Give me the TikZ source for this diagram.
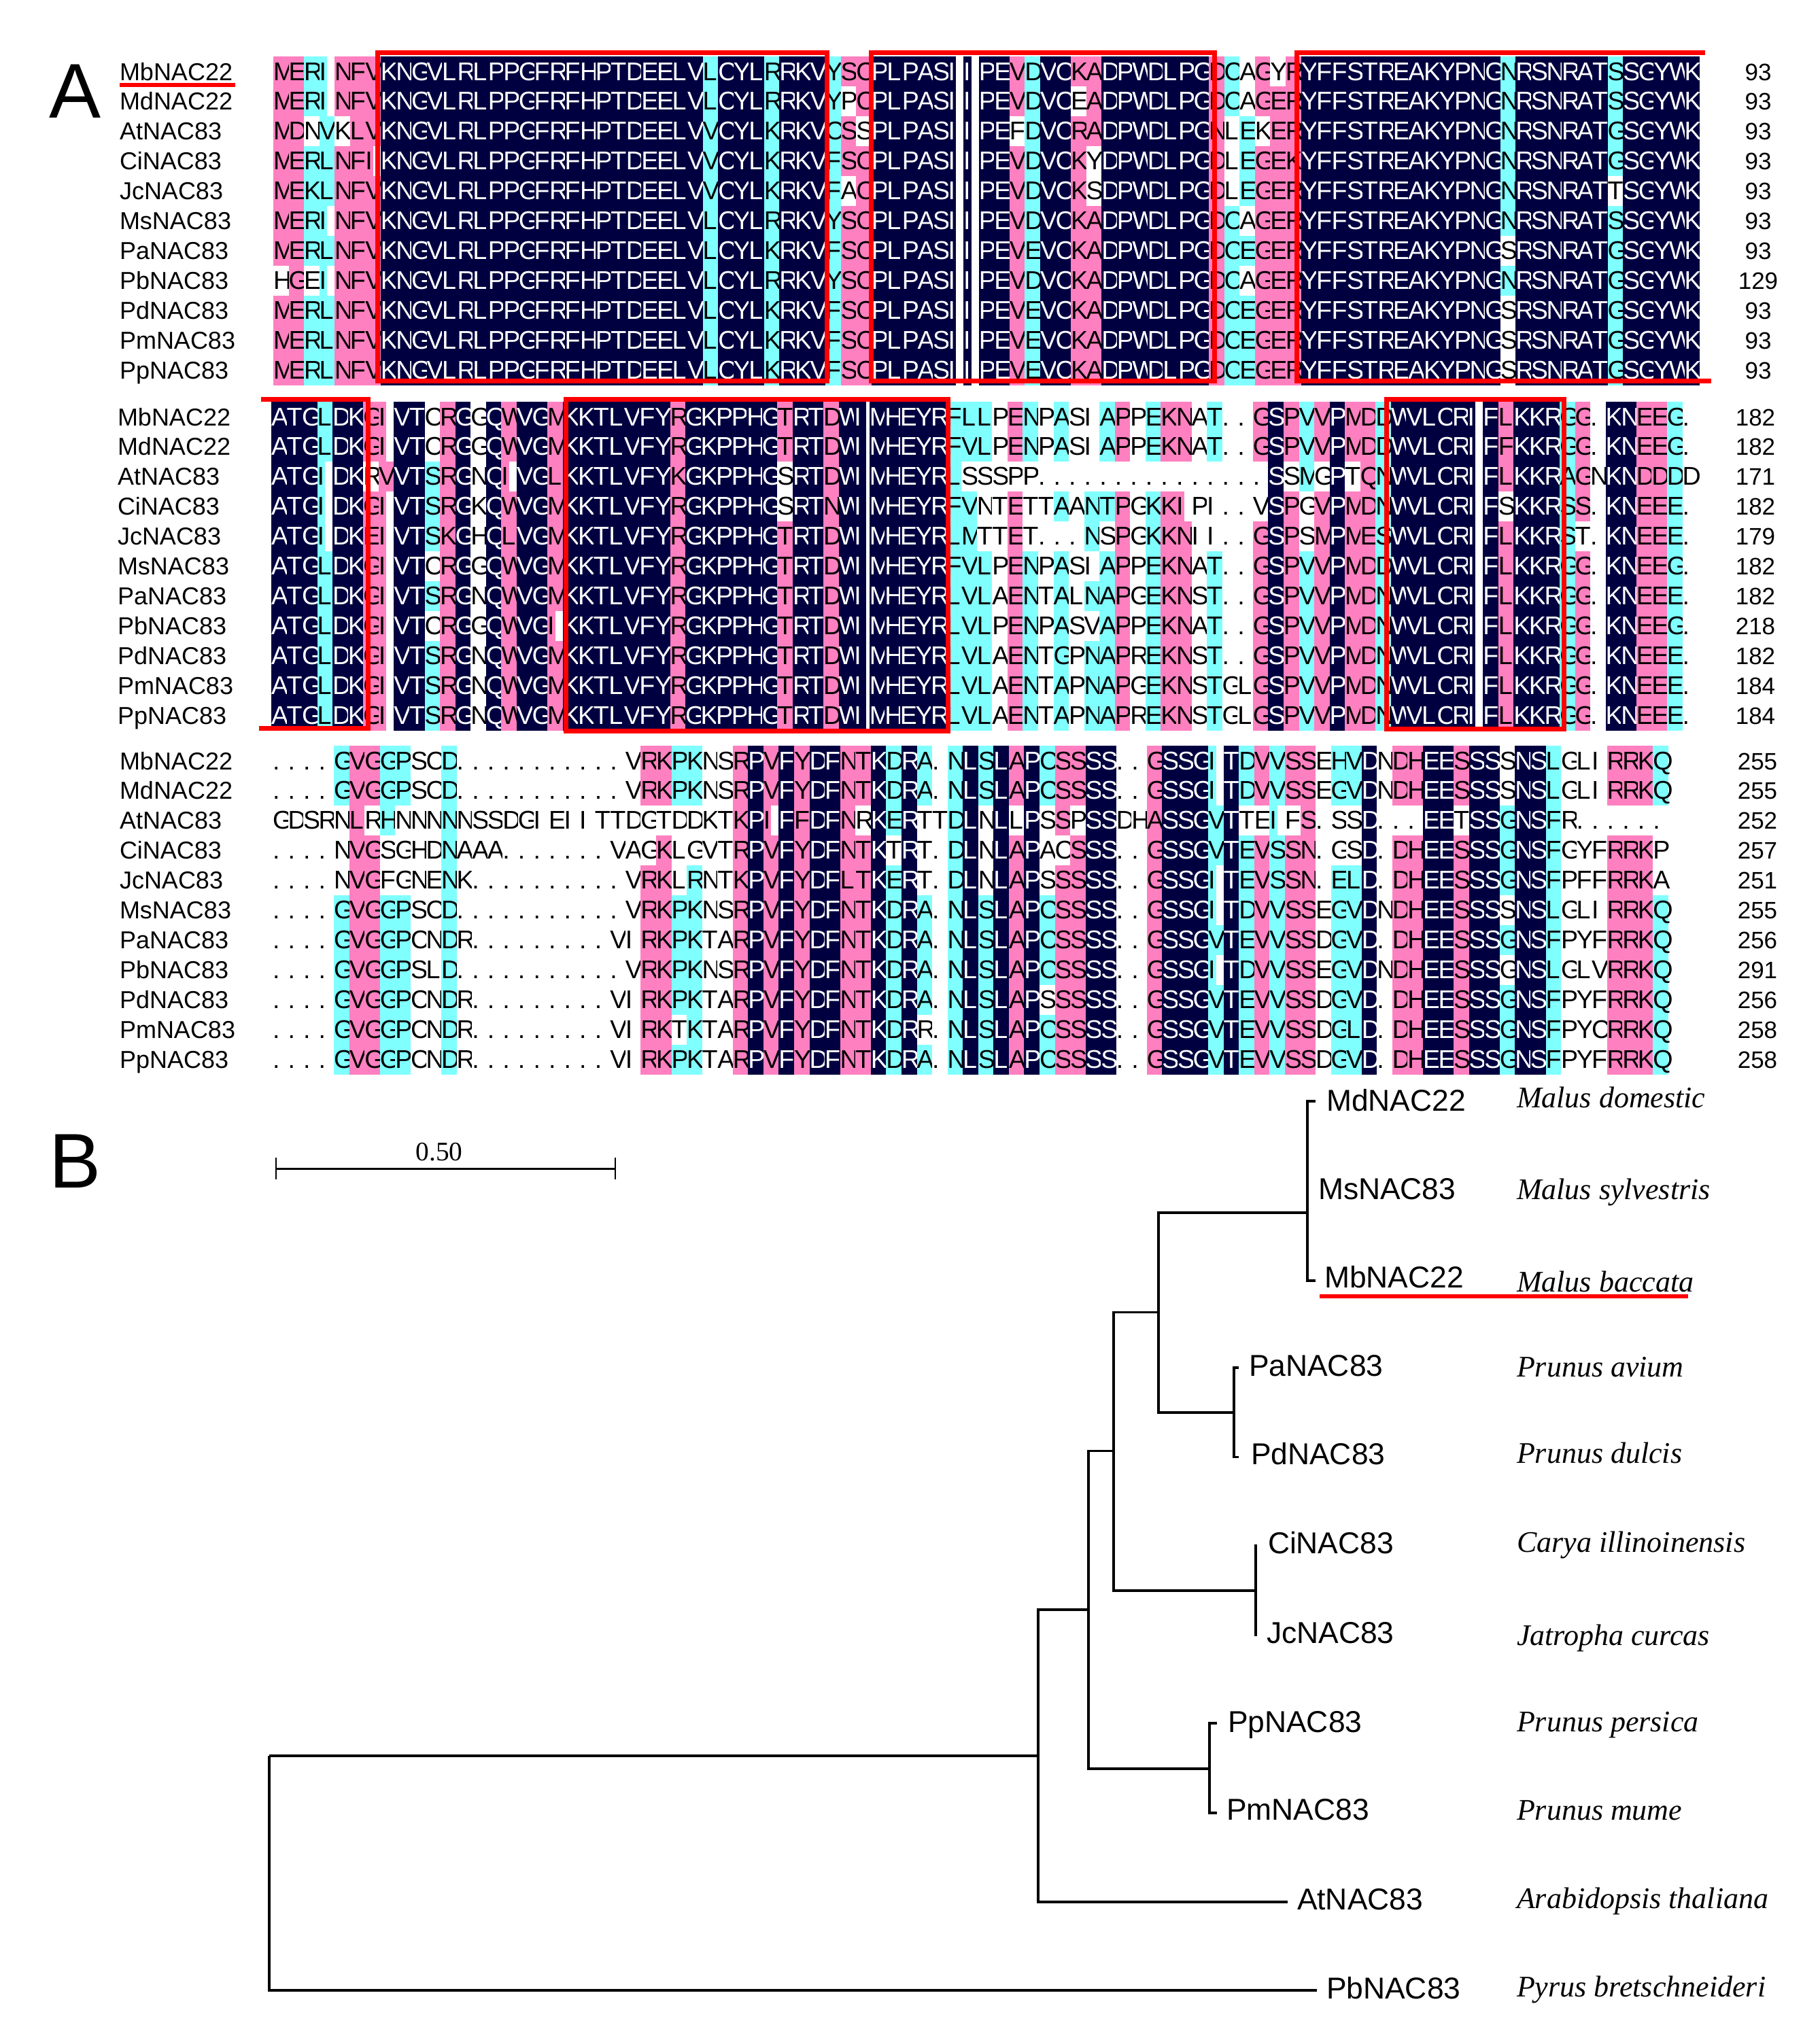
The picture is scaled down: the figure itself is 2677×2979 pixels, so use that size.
\documentclass[tikz,border=0pt]{standalone}
\usepackage{fontspec}
\setmainfont{Liberation Sans}
\newfontfamily\speciesfont{Liberation Serif}
\usepackage{tikz}

\definecolor{celln}{HTML}{000040}
\definecolor{cellp}{HTML}{FF80C0}
\definecolor{cellc}{HTML}{80FFFF}
\definecolor{cellw}{HTML}{FFFFFF}

\tikzset{
  seqchar/.style={anchor=base west,inner sep=0pt,outer sep=0pt,font=\fontsize{18.85}{20}\selectfont},
  seqlabel/.style={anchor=base west,inner sep=0pt,outer sep=0pt,font=\fontsize{18}{20}\selectfont},
  seqnum/.style={anchor=base,inner sep=0pt,outer sep=0pt,font=\fontsize{17.5}{20}\selectfont},
  redbox/.style={draw=red,line width=3.5pt},
  redline/.style={draw=red,line width=3pt},
  branch/.style={draw=black,line width=1.6pt},
  taxon/.style={anchor=base west,inner sep=0pt,outer sep=0pt,font=\fontsize{22.2}{24}\selectfont},
  species/.style={anchor=base west,inner sep=0pt,outer sep=0pt,font=\fontsize{22}{24}\speciesfont\itshape},
  panel/.style={anchor=base west,inner sep=0pt,outer sep=0pt,font=\fontsize{57}{60}\selectfont}
}

\newcount\colno
\newcount\rowno

% base colours of the columns of a block
\def\setbase#1{\global\colno=0 \setbasei#1\relax}
\def\setbasei#1{\ifx#1\relax\else\expandafter\xdef\csname bgc\the\colno\endcsname{#1}\global\advance\colno by 1 \expandafter\setbasei\fi}

% x of first column, y of first row, x of labels, x of numbers, base colours
\newcommand{\alnblock}[5]{%
  \gdef\alnx{#1}\gdef\rowy{#2}\gdef\labx{#3}\gdef\numx{#4}\setbase{#5}}

\def\alncell#1{%
  \pgfmathsetmacro\cellx{\alnx+\the\colno*22.56}%
  \edef\cellcode{\csname cellc\the\colno\endcsname}%
  \def\cellw{22.9}\def\cellchar{#1}%
  \ifx#1I\def\cellw{11.5}\fi
  \ifx#1j\def\cellw{18}\def\cellchar{I}\fi
  \fill[fill=cell\cellcode] (\cellx,\rowy) rectangle ++(\cellw,44.3);
  \if n\cellcode\def\cellink{white}\else\def\cellink{black}\fi
  \node[seqchar,text=\cellink,name=s\the\rowno c\the\colno] at (\cellx,\rowy+35) {\cellchar};
}
\def\alnwalk#1{\ifx#1\relax\else\alncell{#1}\global\advance\colno by 1 \expandafter\alnwalk\fi}

% name, residues, number, cells that differ from the base colour
\newcommand{\alnrow}[4]{%
  \foreach \ii in {0,...,92}{\expandafter\global\expandafter\let\csname cellc\ii\expandafter\endcsname\csname bgc\ii\endcsname}%
  \ifx\relax#4\relax\else\foreach \ii/\vv in {#4}{\expandafter\xdef\csname cellc\ii\endcsname{\vv}}\fi
  \node[seqlabel,name=lab\the\rowno] at (\labx,\rowy+35) {#1};
  \global\colno=0
  \alnwalk#2\relax
  \node[seqnum,name=num\the\rowno] at (\numx,\rowy+35) {#3};
  \pgfmathsetmacro\nexty{\rowy+43.95}\global\let\rowy\nexty
  \global\advance\rowno by 1
}

\begin{document}
\begin{tikzpicture}[x=0.5pt,y=-0.5pt]

\useasboundingbox (0,0) rectangle (2677,2979);
\fill[white] (0,0) rectangle (2677,2979);

\node[panel] (panelA) at (72,173) {A};
\node[panel] (panelB) at (72,1747) {B};

% first block
\alnblock{402}{83}{176}{2586}{ppccpppnnnnnnnnnnnnnnnnnnnnncnnncnnncppnnnnnnnnnpcnnppnnnnnnnpccpppnnnnnnnnnnnnncnnnnnncnnnnn}
\alnrow{MbNAC22}{MERINFVKNGVLRLPPGFRFHPTDEELVLCYLRRKVYSCPLPASIIPEVDVCKADPWDLPGDCAGYRYFFSTREAKYPNGNRSNRATSSGYWK}{93}{63/w,65/w}
\alnrow{MdNAC22}{MERINFVKNGVLRLPPGFRFHPTDEELVLCYLRRKVYPCPLPASIIPEVDVCEADPWDLPGDCAGERYFFSTREAKYPNGNRSNRATSSGYWK}{93}{37/w,52/w,63/w}
\alnrow{AtNAC83}{MDNVKLVKNGVLRLPPGFRFHPTDEELVVCYLKRKVCSSPLPASIIPEFDVCRADPWDLPGNLEKERYFFSTREAKYPNGNRSNRATGSGYWK}{93}{2/w,4/w,38/w,48/w,62/w,64/w}
\alnrow{CiNAC83}{MERLNFIKNGVLRLPPGFRFHPTDEELVVCYLKRKVFSCPLPASIIPEVDVCKYDPWDLPGDLEGEKYFFSTREAKYPNGNRSNRATGSGYWK}{93}{53/w,62/w}
\alnrow{JcNAC83}{MEKLNFVKNGVLRLPPGFRFHPTDEELVVCYLKRKVFACPLPASIIPEVDVCKSDPWDLPGDLEGERYFFSTREAKYPNGNRSNRATTSGYWK}{93}{37/w,53/w,62/w,87/w}
\alnrow{MsNAC83}{MERINFVKNGVLRLPPGFRFHPTDEELVLCYLRRKVYSCPLPASIIPEVDVCKADPWDLPGDCAGERYFFSTREAKYPNGNRSNRATSSGYWK}{93}{63/w}
\alnrow{PaNAC83}{MERLNFVKNGVLRLPPGFRFHPTDEELVLCYLKRKVFSCPLPASIIPEVEVCKADPWDLPGDCEGERYFFSTREAKYPNGSRSNRATGSGYWK}{93}{80/w}
\alnrow{PbNAC83}{HGEINFVKNGVLRLPPGFRFHPTDEELVLCYLRRKVYSCPLPASIIPEVDVCKADPWDLPGDCAGERYFFSTREAKYPNGNRSNRATGSGYWK}{129}{0/w,2/w,63/w}
\alnrow{PdNAC83}{MERLNFVKNGVLRLPPGFRFHPTDEELVLCYLKRKVFSCPLPASIIPEVEVCKADPWDLPGDCEGERYFFSTREAKYPNGSRSNRATGSGYWK}{93}{80/w}
\alnrow{PmNAC83}{MERLNFVKNGVLRLPPGFRFHPTDEELVLCYLKRKVFSCPLPASIIPEVEVCKADPWDLPGDCEGERYFFSTREAKYPNGSRSNRATGSGYWK}{93}{80/w}
\alnrow{PpNAC83}{MERLNFVKNGVLRLPPGFRFHPTDEELVLCYLKRKVFSCPLPASIIPEVEVCKADPWDLPGDCEGERYFFSTREAKYPNGSRSNRATGSGYWK}{93}{80/w}

% second block
\alnblock{399}{591}{173}{2582}{nnncnnppnncpnwnpnnpnnnnnnnpnnnnnnpnnpnnnnnnncccwpcwcwwcpwcppwcwwpnpcpnppcnnnnnnnpnnncpwnnppcw}
\alnrow{MbNAC22}{ATGLDKGIVTCRGGQWVGMKKTLVFYRGKPPHGTRTDWjMHEYRFLLPENPASIAPPEKNAT..GSPVVPMDDWVLCRIFLKKRGG.KNEEG.}{182}{10/w}
\alnrow{MdNAC22}{ATGLDKGIVTCRGGQWVGMKKTLVFYRGKPPHGTRTDWjMHEYRFVLPENPASIAPPEKNAT..GSPVVPMDDWVLCRIFFKKRGG.KNEEG.}{182}{10/w}
\alnrow{AtNAC83}{ATGIDKRVVTSRGNQIVGLKKTLVFYKGKPPHGSRTDWjMHEYRLSSSPP...............SSMGPTQNWVLCRIFLKKRAGNKNDDDD}{171}{6/w,33/w,45/w,46/w,48/w,49/w,51/w,54/w,55/w,57/w,58/w,59/w,61/w,64/w,66/w,68/w,70/w}
\alnrow{CiNAC83}{ATGIDKGIVTSRGKQWVGMKKTLVFYRGKPPHGSRTNWjMHEYRFVNTETTAANTPGKKIPI..VSPGVPMDNWVLCRIFSKKRSS.KNEEE.}{182}{33/w,46/w,49/w,53/c,61/w,64/w,67/w,80/w}
\alnrow{JcNAC83}{ATGIDKEIVTSKGHQLVGMKKTLVFYRGKPPHGTRTDWjMHEYRLMTTET...NSPGKKNII..GSPSMPMESWVLCRIFLKKRST.KNEEE.}{179}{46/w,49/w,51/w,53/c,54/w,61/w,67/w,85/w}
\alnrow{MsNAC83}{ATGLDKGIVTCRGGQWVGMKKTLVFYRGKPPHGTRTDWjMHEYRFVLPENPASIAPPEKNAT..GSPVVPMDDWVLCRIFLKKRGG.KNEEG.}{182}{10/w}
\alnrow{PaNAC83}{ATGLDKGIVTSRGNQWVGMKKTLVFYRGKPPHGTRTDWjMHEYRLVLAENTALNAPGEKNST..GSPVVPMDNWVLCRIFLKKRGG.KNEEE.}{182}{53/c}
\alnrow{PbNAC83}{ATGLDKGIVTCRGGQWVGIKKTLVFYRGKPPHGTRTDWjMHEYRLVLPENPASVAPPEKNAT..GSPVVPMDNWVLCRIFLKKRGG.KNEEG.}{218}{10/w}
\alnrow{PdNAC83}{ATGLDKGIVTSRGNQWVGMKKTLVFYRGKPPHGTRTDWjMHEYRLVLAENTGPNAPREKNST..GSPVVPMDNWVLCRIFLKKRGG.KNEEE.}{182}{53/c}
\alnrow{PmNAC83}{ATGLDKGIVTSRGNQWVGMKKTLVFYRGKPPHGTRTDWjMHEYRLVLAENTAPNAPGEKNSTGLGSPVVPMDNWVLCRIFLKKRGG.KNEEE.}{184}{53/c}
\alnrow{PpNAC83}{ATGLDKGIVTSRGNQWVGMKKTLVFYRGKPPHGTRTDWjMHEYRLVLAENTAPNAPREKNSTGLGSPVVPMDNWVLCRIFLKKRGG.KNEEE.}{184}{53/c}

% third block
\alnblock{401}{1097}{176}{2585}{wwwwcppccwwcwwwwwwwwwwwwppccwwpnpnpnnppncncwcncnpncppnnwwpnnncncpcppwccnwppnnpnncnncwwwpppc}
\alnrow{MbNAC22}{....GVGGPSCD...........VRKPKNSRPVFYDFNTKDRA.NLSLAPCSSSS..GSSGITDVVSSEHVDNDHEESSSSNSLGLIRRKQ}{255}{80/w}
\alnrow{MdNAC22}{....GVGGPSCD...........VRKPKNSRPVFYDFNTKDRA.NLSLAPCSSSS..GSSGITDVVSSEGVDNDHEESSSSNSLGLIRRKQ}{255}{80/w}
\alnrow{AtNAC83}{GDSRNLRHNNNNNSSDGIEIITTDGTDDKTKPIFFDFNRKERTTDLNLLPSSPSSDHASSGVTTEIFS.SSD...EETSSGNSFR......}{252}{4/w,6/w,8/w,24/w,25/w,26/w,27/w,38/w,42/w,46/w,48/w,50/w,52/w,63/w,64/w,66/w,69/w,70/w,73/w,74/w,77/w,87/w,88/w,89/w,90/w}
\alnrow{CiNAC83}{....NVGSGHDNAAA.......VAGKLGVTRPVFYDFNTKTRT.DLNLAPACSSS..GSSGVTEVSSN.GSD.DHEESSSGNSFGYFRRKP}{257}{4/w,7/w,8/w,24/w,26/w,27/w,40/w,42/w,46/w,50/w,51/w,69/w,70/w,90/w}
\alnrow{JcNAC83}{....NVGFGNENK..........VRKLRNTKPVFYDFLTKERT.DLNLAPSSSSS..GSSGITEVSSN.ELD.DHEESSSGNSFPFFRRKA}{251}{4/w,7/w,8/w,26/w,42/w,46/w,50/w,90/w}
\alnrow{MsNAC83}{....GVGGPSCD...........VRKPKNSRPVFYDFNTKDRA.NLSLAPCSSSS..GSSGITDVVSSEGVDNDHEESSSSNSLGLIRRKQ}{255}{80/w}
\alnrow{PaNAC83}{....GVGGPCNDR.........VIRKPKTARPVFYDFNTKDRA.NLSLAPCSSSS..GSSGVTEVVSSDGVD.DHEESSSGNSFPYFRRKQ}{256}{}
\alnrow{PbNAC83}{....GVGGPSLD...........VRKPKNSRPVFYDFNTKDRA.NLSLAPCSSSS..GSSGITDVVSSEGVDNDHEESSSGNSLGLVRRKQ}{291}{80/w}
\alnrow{PdNAC83}{....GVGGPCNDR.........VIRKPKTARPVFYDFNTKDRA.NLSLAPSSSSS..GSSGVTEVVSSDGVD.DHEESSSGNSFPYFRRKQ}{256}{50/w}
\alnrow{PmNAC83}{....GVGGPCNDR.........VIRKTKTARPVFYDFNTKDRR.NLSLAPCSSSS..GSSGVTEVVSSDGLD.DHEESSSGNSFPYCRRKQ}{258}{26/w,42/w}
\alnrow{PpNAC83}{....GVGGPCNDR.........VIRKPKTARPVFYDFNTKDRA.NLSLAPCSSSS..GSSGVTEVVSSDGVD.DHEESSSGNSFPYFRRKQ}{258}{}

% red marks on the alignment
\draw[redline] (176,125) -- (346,125);
\draw[redbox] (555,77) rectangle (1216,560);
\draw[redbox] (1281,77) rectangle (1786,560);
\draw[redbox] (2508,77) -- (1907,77) -- (1907,560) -- (2517,560);
\draw[redbox] (384,587) -- (541,587) -- (541,1071) -- (381,1071);
\draw[redbox] (832,587) rectangle (1394,1075);
\draw[redbox] (2039,587) rectangle (2300,1072);

% scale bar
\coordinate (scaleL) at (406,1719);
\coordinate (scaleR) at (905,1719);
\draw[line width=1.5pt] (scaleL) -- (scaleR);
\draw[line width=1pt] (406,1703) -- (406,1735);
\draw[line width=1pt] (905,1703) -- (905,1735);
\node[anchor=base,inner sep=0pt,font=\fontsize{19.7}{22}\speciesfont] (scaleText) at (646,1707) {0.50};

% tree labels
\node[taxon] (tMd) at (1951,1634) {MdNAC22};
\node[taxon] (tMs) at (1939,1764) {MsNAC83};
\node[taxon] (tMb) at (1948,1894) {MbNAC22};
\node[taxon] (tPa) at (1837,2024) {PaNAC83};
\node[taxon] (tPd) at (1840,2154) {PdNAC83};
\node[taxon] (tCi) at (1865,2285) {CiNAC83};
\node[taxon] (tJc) at (1863,2417) {JcNAC83};
\node[taxon] (tPp) at (1806,2548) {PpNAC83};
\node[taxon] (tPm) at (1804,2677) {PmNAC83};
\node[taxon] (tAt) at (1908,2809) {AtNAC83};
\node[taxon] (tPb) at (1951,2940) {PbNAC83};

\node[species] (spMd) at (2231,1629) {Malus domestic};
\node[species] (spMs) at (2231,1764) {Malus sylvestris};
\node[species] (spMb) at (2231,1900) {Malus baccata};
\node[species] (spPa) at (2231,2025) {Prunus avium};
\node[species] (spPd) at (2231,2152) {Prunus dulcis};
\node[species] (spCi) at (2231,2283) {Carya illinoinensis};
\node[species] (spJc) at (2231,2420) {Jatropha curcas};
\node[species] (spPp) at (2231,2547) {Prunus persica};
\node[species] (spPm) at (2231,2677) {Prunus mume};
\node[species] (spAt) at (2231,2807) {Arabidopsis thaliana};
\node[species] (spPb) at (2231,2937) {Pyrus bretschneideri};

\draw[redline] (1941,1907) -- (2483,1907);

% tree
\coordinate (nRoot) at (396,2583);
\coordinate (n1) at (1527,2583);
\coordinate (n2) at (1601,2368);
\coordinate (n3) at (1638,2134.5);
\coordinate (n4) at (1779,2602);
\coordinate (n5) at (1704,1930.5);
\coordinate (n6) at (1847,2340);
\coordinate (nMal) at (1923,1784);
\coordinate (nPru) at (1815,2078);
\coordinate (eMd) at (1935,1620);
\coordinate (eMb) at (1935,1884);
\coordinate (ePa) at (1822,2012);
\coordinate (ePd) at (1822,2143.5);
\coordinate (eCi) at (1847,2272);
\coordinate (eJc) at (1847,2407);
\coordinate (ePp) at (1790,2535);
\coordinate (ePm) at (1790,2667);
\coordinate (eAt) at (1894,2798);
\coordinate (ePb) at (1937,2928);

\draw[branch] (nRoot) -- (n1);
\draw[branch] (nRoot) |- (ePb);
\draw[branch] (n2) -| (n1) |- (eAt);
\draw[branch] (n3) -| (n2) |- (n4);
\draw[branch] (n5) -| (n3) |- (n6);
\draw[branch] (nMal) -| (n5) |- (nPru);
\draw[branch] (eMd) -| (nMal) |- (eMb);
\draw[branch] (ePa) -| (nPru) |- (ePd);
\draw[branch] (eCi) -- (eJc);
\draw[branch] (ePp) -| (n4) |- (ePm);

\end{tikzpicture}
\end{document}
